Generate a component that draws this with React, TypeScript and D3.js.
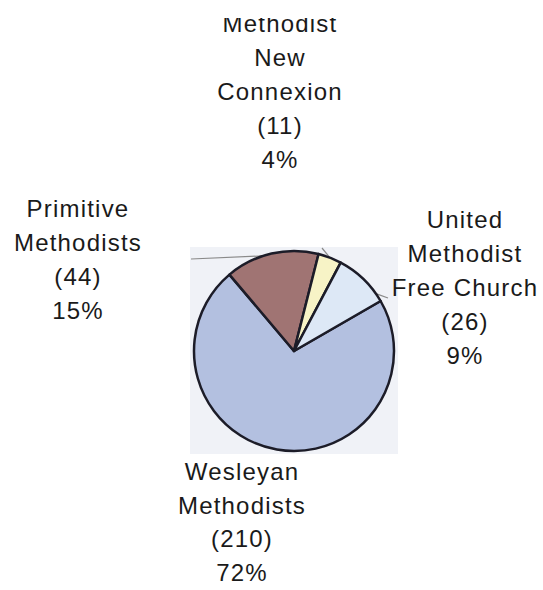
import React from "react";
import * as d3 from "d3";

const categories = [
  "Wesleyan Methodists",
  "Primitive Methodists",
  "Methodist New Connexion",
  "United Methodist Free Church",
];
const counts = [210, 44, 11, 26];
const percentLabels = ["72%", "15%", "4%", "9%"];
const nameLines = [
  ["Wesleyan", "Methodists"],
  ["Primitive", "Methodists"],
  ["Methodist", "New", "Connexion"],
  ["United", "Methodist", "Free Church"],
];
const colors = ["#b3c0e0", "#a07473", "#f7f3c6", "#dde8f6"];

// layout (not data)
const W = 543;
const H = 590;
const cx = 294;
const cy = 351;
const R = 100;
const labelPos = [
  { x: 242, y: 480, step: 33.5 },
  { x: 78, y: 217, step: 34 },
  { x: 280, y: 32, step: 34 },
  { x: 465, y: 228, step: 34 },
];
const leaders: ({ angle: number; to: [number, number] } | null)[] = [
  null,
  { angle: -18, to: [191, 259] },
  { angle: 21, to: [322, 248] },
  { angle: 55, to: [388, 298] },
];

export default function App() {
  const pie = d3
    .pie<number>()
    .sort(null)
    .value((d) => d)
    .startAngle((60 * Math.PI) / 180)
    .endAngle((420 * Math.PI) / 180);
  const arcs = pie(counts);
  const arc = d3.arc<d3.PieArcDatum<number>>().innerRadius(0).outerRadius(R);

  return (
    <svg
      width={W}
      height={H}
      style={{ position: "absolute", left: 0, top: 0, background: "#fff" }}
      fontFamily="'Liberation Sans', Arial, sans-serif"
    >
      <rect x={190} y={247} width={208} height={207} fill="#f0f2f7" />
      {leaders.map((l, i) => {
        if (!l) return null;
        const a = (l.angle * Math.PI) / 180;
        const x1 = cx + R * Math.sin(a);
        const y1 = cy - R * Math.cos(a);
        return (
          <line
            key={"l" + i}
            x1={x1}
            y1={y1}
            x2={l.to[0]}
            y2={l.to[1]}
            stroke="#8a8a8a"
            strokeWidth={1.2}
          />
        );
      })}
      <g transform={`translate(${cx},${cy})`}>
        {arcs.map((d, i) => (
          <path
            key={categories[i]}
            d={arc(d) || ""}
            fill={colors[i]}
            stroke="#1c1c28"
            strokeWidth={2.5}
            strokeLinejoin="round"
          />
        ))}
      </g>
      {categories.map((c, i) => {
        const lines = [...nameLines[i], `(${counts[i]})`, percentLabels[i]];
        const p = labelPos[i];
        return (
          <g key={"t" + c}>
            {lines.map((t, j) => (
              <text
                key={j}
                x={p.x}
                y={p.y + j * p.step}
                textAnchor="middle"
                fontSize={24}
                letterSpacing={1.2}
                fill="#1a1a1a"
              >
                {t}
              </text>
            ))}
          </g>
        );
      })}
      <rect x={0} y={0} width={W} height={18} fill="#fff" />
    </svg>
  );
}
